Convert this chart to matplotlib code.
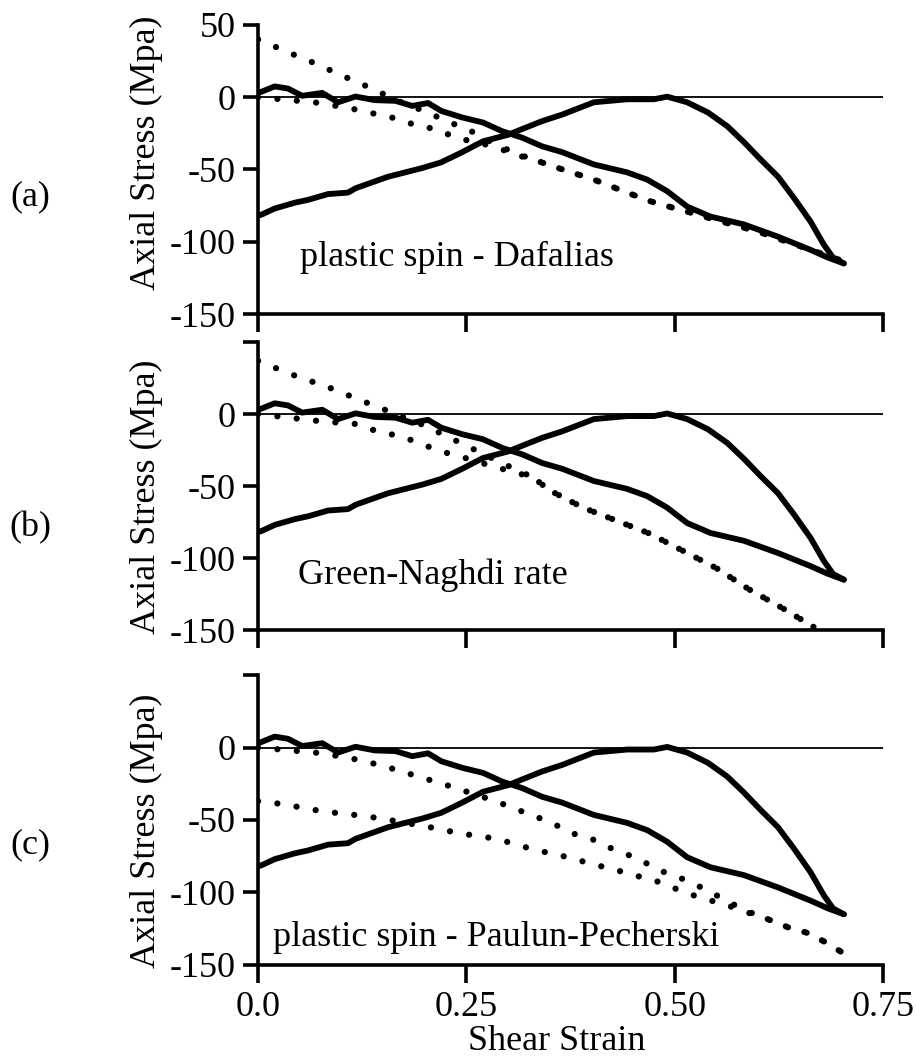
import matplotlib
matplotlib.use("Agg")
import matplotlib.pyplot as plt

plt.rcParams["font.family"] = ["Liberation Serif", "DejaVu Serif"]
plt.rcParams["font.size"] = 26

# measured curves (same in every panel)
exp1_x = [0.0, 0.005, 0.02, 0.036, 0.053, 0.077, 0.096, 0.117, 0.14, 0.165, 0.185, 0.204,
          0.22, 0.245, 0.27, 0.293, 0.317, 0.341, 0.365, 0.403, 0.443, 0.467, 0.491, 0.515,
          0.543, 0.583, 0.624, 0.663, 0.684, 0.703]
exp1_y = [3, 4, 7.5, 6, 1, 3, -3.5, 0.5, -2, -2.5, -6, -4,
          -9.5, -14, -17.5, -23.5, -28, -34, -38, -46.5, -52, -57, -65, -75.7,
          -82.6, -88, -96.5, -105.6, -111, -115]
exp2_x = [0.0, 0.005, 0.02, 0.044, 0.06, 0.084, 0.108, 0.117, 0.156, 0.197, 0.22, 0.245,
          0.27, 0.30, 0.317, 0.341, 0.365, 0.403, 0.443, 0.475, 0.491, 0.515, 0.54, 0.563,
          0.583, 0.603, 0.624, 0.643, 0.663, 0.679, 0.69, 0.703]
exp2_y = [-82, -81, -77, -73, -71, -67, -66, -63, -55, -49, -45, -38,
          -30.5, -26, -22, -16.5, -12, -3.5, -1.4, -1.4, 0.4, -3.5, -10.6, -20,
          -31, -43, -55, -69.6, -86, -102, -111, -115]

# model predictions, two dotted curves per panel
a_up_x = [0.0, 0.053, 0.075, 0.096, 0.119, 0.14, 0.17, 0.204, 0.228, 0.251, 0.283, 0.31,
          0.33, 0.355, 0.403, 0.443, 0.471, 0.495, 0.52, 0.55, 0.6, 0.65, 0.7]
a_up_y = [40, 27, 22, 16, 10.6, 5, -3, -10.6, -17, -22, -32, -39,
          -43, -48, -57, -66, -72, -76, -80, -85, -93, -103, -113]
a_lo_x = [0.0, 0.04, 0.075, 0.122, 0.144, 0.168, 0.192, 0.214, 0.237, 0.283, 0.31, 0.33,
          0.355, 0.403, 0.443, 0.471, 0.495, 0.52, 0.55, 0.6, 0.65, 0.7]
a_lo_y = [0, -2, -4, -9, -12, -15, -20, -22, -28, -34, -40, -43,
          -48, -57, -66, -72, -76, -80, -85, -93, -103, -113]

b_up_x = [0.0, 0.017, 0.038, 0.087, 0.13, 0.15, 0.2, 0.25, 0.3, 0.33, 0.35, 0.39,
          0.43, 0.47, 0.51, 0.55, 0.59, 0.63, 0.67]
b_up_y = [37, 33, 28, 18, 8, 3.5, -8, -22, -36, -44, -53, -65,
          -74, -83, -95, -107, -122, -135, -149]
b_lo_x = [0.0, 0.075, 0.12, 0.147, 0.17, 0.197, 0.22, 0.24, 0.28, 0.33, 0.35, 0.39,
          0.43, 0.47, 0.51, 0.55, 0.59, 0.63, 0.67]
b_lo_y = [0, -5, -7, -13, -15, -21, -26, -29, -36, -44, -53, -65,
          -74, -83, -95, -107, -122, -135, -149]

c_up_x = [0.0, 0.078, 0.125, 0.148, 0.17, 0.195, 0.216, 0.24, 0.285, 0.307, 0.33, 0.353,
          0.375, 0.397, 0.417, 0.44, 0.46, 0.483, 0.507, 0.53, 0.547, 0.583, 0.61, 0.636,
          0.66, 0.68, 0.70]
c_up_y = [0, -4, -9, -12.5, -16, -20.6, -24, -28.5, -37, -42, -47, -52,
          -59, -62, -68, -73, -78, -85, -90, -96, -101, -112, -118, -124,
          -128, -134, -141]
c_lo_x = [0.0, 0.029, 0.053, 0.077, 0.1, 0.124, 0.148, 0.216, 0.24, 0.263, 0.287, 0.31,
          0.335, 0.36, 0.38, 0.405, 0.427, 0.45, 0.473, 0.495, 0.517, 0.54, 0.564, 0.583,
          0.61, 0.636, 0.66, 0.68, 0.70]
c_lo_y = [-37, -39, -41.5, -44, -45.5, -47, -49, -56, -59, -61, -63, -67,
          -71, -74, -77, -81, -84, -88, -91, -96, -101, -105, -109, -113,
          -118, -124, -128, -134, -141]

models = [((a_up_x, a_up_y), (a_lo_x, a_lo_y)),
          ((b_up_x, b_up_y), (b_lo_x, b_lo_y)),
          ((c_up_x, c_up_y), (c_lo_x, c_lo_y))]
panel_tags = ["(a)", "(b)", "(c)"]
notes = ["plastic spin - Dafalias", "Green-Naghdi rate", "plastic spin - Paulun-Pecherski"]
yticks = [50, 0, -50, -100, -150]
xticks = [0.0, 0.25, 0.50, 0.75]
xtick_labels = ["0.0", "0.25", "0.50", "0.75"]

fig = plt.figure(figsize=(9.16, 10.63), dpi=100)
rects = [[0.2817, 0.7046, 0.6823, 0.2719],
         [0.2817, 0.4073, 0.6823, 0.2709],
         [0.2817, 0.0922, 0.6823, 0.2728]]
note_pos = [(0.05, -111), (0.048, -112), (0.018, -131)]
label_y = [0.557, 0.462, 0.462]
tag_y = [197, 528, 845]

for i, rect in enumerate(rects):
    ax = fig.add_axes(rect)
    ax.set_xlim(0, 0.75); ax.set_ylim(-150, 50)
    ax.axhline(0, color="black", lw=1.3, zorder=1)
    for mx, my in models[i]:
        ax.plot(mx, my, color="black", lw=4.5, ls=(0, (0.01, 3.1)),
                dash_capstyle="round", zorder=2)
    for ex, ey in [(exp1_x, exp1_y), (exp2_x, exp2_y)]:
        ax.plot(ex, ey, color="black", lw=4.2, solid_joinstyle="round",
                solid_capstyle="round", zorder=3)
    ax.text(*note_pos[i], notes[i], va="center", ha="left")
    for s in ["top", "right"]: ax.spines[s].set_visible(False)
    for s in ["left", "bottom"]: ax.spines[s].set_linewidth(2.6)
    ax.set_yticks(yticks)
    ax.set_yticklabels([str(t) if (i == 0 or t != 50) else "" for t in yticks])
    ax.set_xticks(xticks)
    ax.set_xticklabels(xtick_labels if i == 2 else [])
    ax.tick_params(axis="y", length=11, width=2.6, pad=5)
    ax.tick_params(axis="x", length=13, width=2.6, pad=6)
    ax.set_ylabel("Axial Stress (Mpa)")
    ax.yaxis.set_label_coords(-0.152, label_y[i])
    fig.text(30 / 916, 1 - tag_y[i] / 1063, panel_tags[i], ha="center", va="center")
    if i == 2:
        ax.set_xlabel("Shear Strain")
        ax.xaxis.set_label_coords(0.478, -0.207)

fig.savefig("out.png", dpi=100)
